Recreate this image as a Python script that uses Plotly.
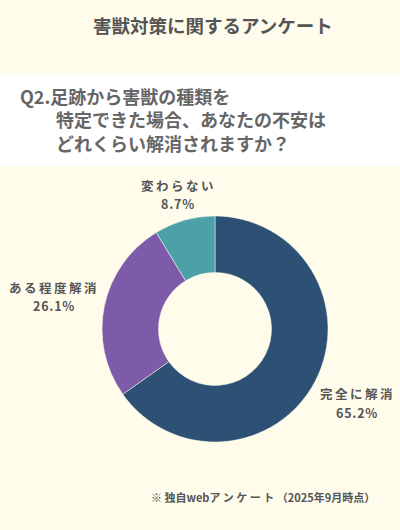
import plotly.graph_objects as go

# データ
labels = ["完全に解消", "ある程度解消", "変わらない"]
values = [65.2, 26.1, 8.7]
colors = ["#2D5075", "#7D5BA9", "#4CA0A8"]

title_text = "害獣対策に関するアンケート"
question_lines = ["Q2.足跡から害獣の種類を", "\u3000\u3000特定できた場合、あなたの不安は", "\u3000\u3000どれくらい解消されますか？"]
note_text = "※ 独自webア ン ケ ー ト （2025年9月時点）"

bg = "#FFFCEC"
font_jp = "Noto Sans CJK JP"


def spaced(s, sep="\u2009"):
    # 字間を少し広げる
    return sep.join(s)


fig = go.Figure(go.Pie(
    labels=labels, values=values, hole=0.5, sort=False,
    direction="clockwise", rotation=0,
    marker=dict(colors=colors, line=dict(color=bg, width=0.5)),
    textinfo="none", hoverinfo="skip", showlegend=False,
    domain=dict(x=[0.255, 0.82], y=[0.166, 0.5925]),
))

# ラベル位置（各スライスの外側）
label_pos = [(356, 403), (53, 296), (177, 194)]
label_font = dict(family=font_jp, size=12.5, color="#555555", weight="bold")
annotations = []
for (lx, ly), lab, v in zip(label_pos, labels, values):
    annotations.append(dict(
        x=lx / 400, y=1 - (ly - 9) / 530, xref="paper", yref="paper",
        xanchor="center", yanchor="middle",
        text=spaced(lab), showarrow=False, font=label_font,
    ))
    annotations.append(dict(
        x=lx / 400, y=1 - (ly + 9.5) / 530, xref="paper", yref="paper",
        xanchor="center", yanchor="middle",
        text=spaced(f"{v:.1f}%", "\u200a"), showarrow=False, font=label_font,
    ))

annotations.append(dict(
    x=213 / 400, y=1 - 25 / 530, xref="paper", yref="paper",
    xanchor="center", yanchor="middle",
    text=title_text, showarrow=False,
    font=dict(family=font_jp, size=18.5, color="#555555", weight="bold"),
))

# 設問文（3行）
annotations.append(dict(
    x=18 / 400, y=1 - 120 / 530, xref="paper", yref="paper",
    xanchor="left", yanchor="middle", align="left",
    text="<br>".join(question_lines), showarrow=False,
    font=dict(family=font_jp, size=18, color="#666666", weight="bold"),
))

annotations.append(dict(
    x=377 / 400, y=1 - 497 / 530, xref="paper", yref="paper",
    xanchor="right", yanchor="middle", text=note_text, showarrow=False,
    font=dict(family=font_jp, size=11, color="#555555", weight="bold"),
))

fig.update_layout(
    width=400, height=530,
    margin=dict(l=0, r=0, t=0, b=0),
    paper_bgcolor=bg, plot_bgcolor=bg,
    shapes=[dict(type="rect", xref="paper", yref="paper",
                 x0=0, x1=1, y0=1 - 166 / 530, y1=1 - 75 / 530,
                 fillcolor="white", line=dict(width=0), layer="below")],
    annotations=annotations,
)

fig.write_html("out.html", config={"displayModeBar": False},
               post_script="document.body.style.margin='0';")
